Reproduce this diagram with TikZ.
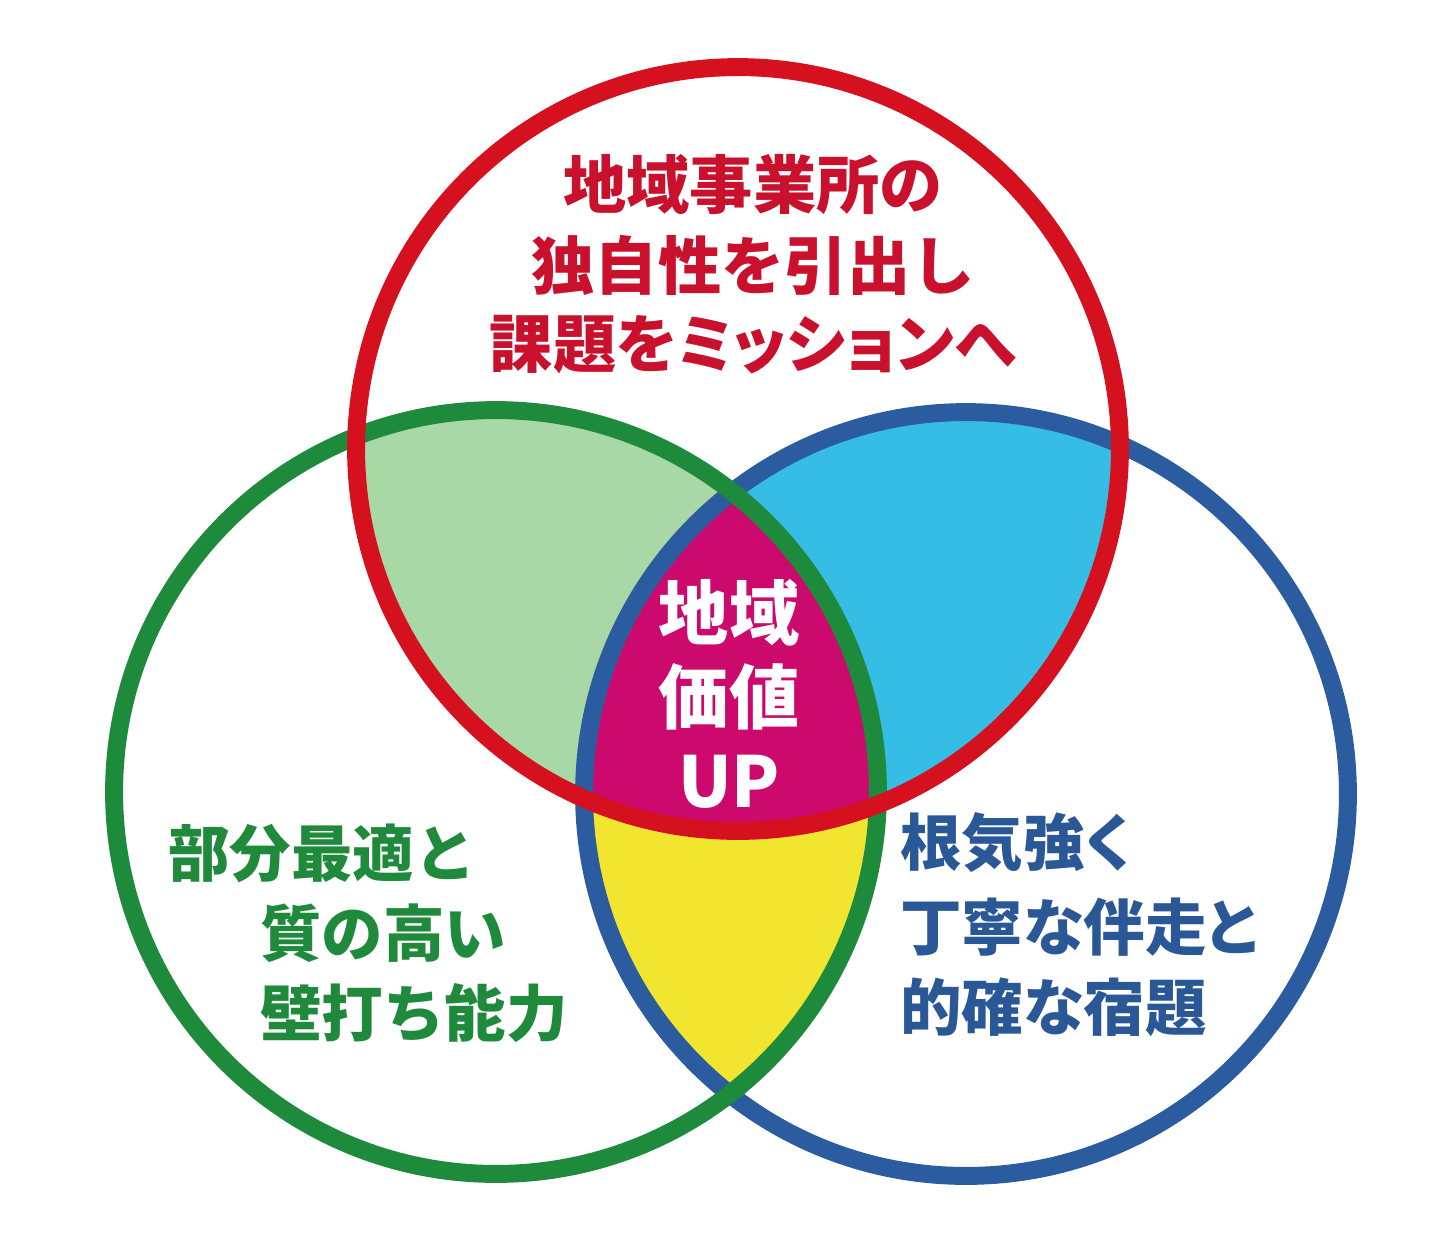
\documentclass[tikz,border=0pt]{standalone}
\usepackage{fontspec}
\newfontfamily\jpfont{Noto Sans CJK JP}
\newfontfamily\jppalt{Noto Sans CJK JP}[RawFeature=+palt]
\usepackage{tikz}
\usetikzlibrary{positioning}
\definecolor{ringred}{HTML}{D5111F}
\definecolor{ringgreen}{HTML}{1E8B3C}
\definecolor{ringblue}{HTML}{2B5CA0}
\definecolor{fillgreen}{HTML}{A8D8A6}
\definecolor{fillcyan}{HTML}{36BDE6}
\definecolor{fillyellow}{HTML}{F2E530}
\definecolor{fillmag}{HTML}{CC0A6E}
\definecolor{txtred}{HTML}{C9102C}
\definecolor{txtgreen}{HTML}{1F8A3B}
\definecolor{txtblue}{HTML}{2A5896}

\begin{document}
\begin{tikzpicture}[x=0.02cm,y=-0.02cm,
  ring/.style={line width=10.2pt},
  lab/.style={font=\jpfont\bfseries\fontsize{36}{36}\selectfont,inner sep=0pt}]
\useasboundingbox (0,0) rectangle (1440,1235);
\def\rad{7.64cm}
\coordinate (cr) at (738,449);
\coordinate (cg) at (496,792);
\coordinate (cb) at (966,794);
% overlaps
\begin{scope}
  \clip (cr) circle[radius=\rad];
  \fill[fillgreen] (cg) circle[radius=\rad];
  \fill[fillcyan] (cb) circle[radius=\rad];
\end{scope}
\begin{scope}
  \clip (cg) circle[radius=\rad];
  \fill[fillyellow] (cb) circle[radius=\rad];
\end{scope}
\begin{scope}
  \clip (cr) circle[radius=\rad];
  \clip (cg) circle[radius=\rad];
  \fill[fillmag] (cb) circle[radius=\rad];
\end{scope}
% rings
\draw[ring,ringblue] (cb) circle[radius=\rad];
\draw[ring,ringgreen] (cg) circle[radius=\rad];
\draw[ring,ringred] (cr) circle[radius=\rad];
% texts
\foreach \txt/\yy [count=\i] in {地域事業所の/185,独自性を引出し/265}{
  \node[lab,text=txtred] (top\i) at (753,\yy) {\txt};
}
\node[lab,text=txtred,font=\jppalt\bfseries\fontsize{36}{36}\selectfont] (top3) at (753,345) {課題をミッションへ};
\node[lab,text=txtgreen,anchor=west,font=\jpfont\bfseries\fontsize{35}{35}\selectfont] (left1) at (168,853) {部分最適と};
\foreach \txt/\yy [count=\i from 2] in {質の高い/933,壁打ち能力/1013}{
  \node[lab,text=txtgreen,anchor=west,font=\jpfont\bfseries\fontsize{35}{35}\selectfont] (left\i) at (260,\yy) {\txt};
}
\foreach \txt/\yy [count=\i] in {根気強く/843,丁寧な伴走と/927,的確な宿題/1007}{
  \node[lab,text=txtblue,anchor=west,font=\jppalt\bfseries\fontsize{35}{35}\selectfont] (right\i) at (900,\yy) {\txt};
}
\foreach \txt/\yy [count=\i] in {地域/613,価値/697,UP/782}{
  \node[lab,text=white,font=\jpfont\bfseries\fontsize{40}{40}\selectfont] (mid\i) at (729,\yy) {\txt};
}
\end{tikzpicture}
\end{document}
